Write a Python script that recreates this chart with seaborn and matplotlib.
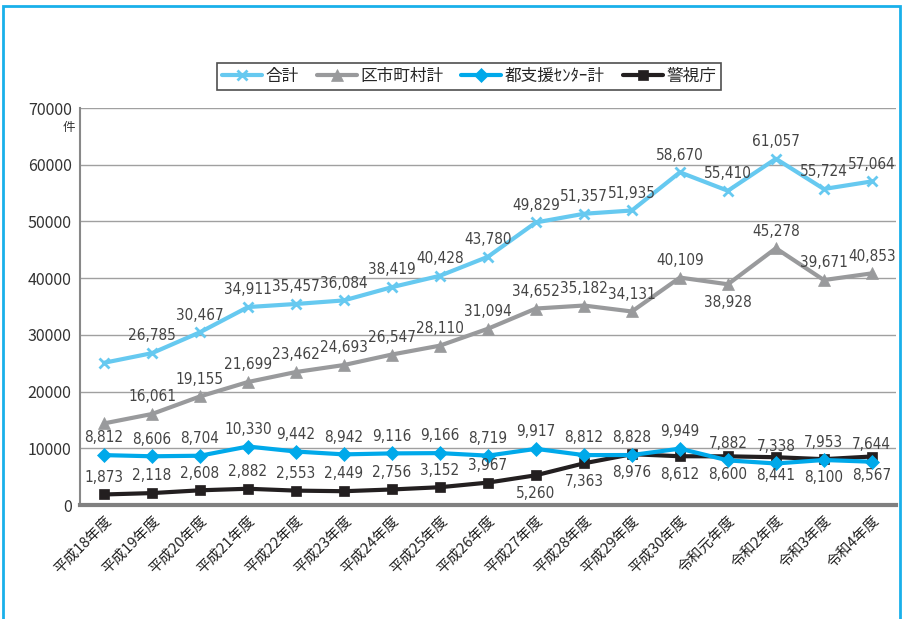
import numpy as np
import pandas as pd
import matplotlib
matplotlib.use('Agg')
import matplotlib.pyplot as plt
from matplotlib.lines import Line2D
from matplotlib.patches import Rectangle
import seaborn as sns

# --- data ---
years = ['平成18年度', '平成19年度', '平成20年度', '平成21年度', '平成22年度', '平成23年度',
         '平成24年度', '平成25年度', '平成26年度', '平成27年度', '平成28年度', '平成29年度',
         '平成30年度', '令和元年度', '令和2年度', '令和3年度', '令和4年度']
total = [25085, 26785, 30467, 34911, 35457, 36084, 38419, 40428, 43780, 49829,
         51357, 51935, 58670, 55410, 61057, 55724, 57064]
kushi = [14400, 16061, 19155, 21699, 23462, 24693, 26547, 28110, 31094, 34652,
         35182, 34131, 40109, 38928, 45278, 39671, 40853]
center = [8812, 8606, 8704, 10330, 9442, 8942, 9116, 9166, 8719, 9917,
          8812, 8828, 9949, 7882, 7338, 7953, 7644]
police = [1873, 2118, 2608, 2882, 2553, 2449, 2756, 3152, 3967, 5260,
          7363, 8976, 8612, 8600, 8441, 8100, 8567]
series_names = ['合計', '区市町村計', '都支援ｾﾝﾀｰ計', '警視庁']

sns.set_theme(style='white')
plt.rcParams['font.family'] = ['Noto Sans CJK JP', 'DejaVu Sans']

df = pd.DataFrame({'年度': years * 4,
                   '件数': total + kushi + center + police,
                   '区分': np.repeat(series_names, len(years))})

colors = {'合計': '#66c9f0', '区市町村計': '#999a9c', '都支援ｾﾝﾀｰ計': '#00a9ea', '警視庁': '#231f20'}
markers = {'合計': 'x', '区市町村計': '^', '都支援ｾﾝﾀｰ計': 'D', '警視庁': 's'}
msizes = {'合計': 7, '区市町村計': 9, '都支援ｾﾝﾀｰ計': 7, '警視庁': 7}

fig = plt.figure(figsize=(9.04, 6.19), dpi=100)
ax = fig.add_axes([0.0885, 0.184, 0.9025, 0.6415])

# draw bottom series first so the light blue total sits on top
for name in ['警視庁', '都支援ｾﾝﾀｰ計', '区市町村計', '合計']:
    sub = df[df['区分'] == name]
    sns.lineplot(data=sub, x='年度', y='件数', ax=ax, color=colors[name],
                 marker=markers[name], markersize=msizes[name],
                 markeredgewidth=2 if name == '合計' else 0.5,
                 markeredgecolor=colors[name], linewidth=3, legend=False)

# data labels (condensed face like the original)
label_font = dict(fontsize=11, color='#444444', family='DejaVu Sans',
                  fontstretch='condensed', fontweight='light')
for name, vals in zip(series_names, [total, kushi, center, police]):
    for i, v in enumerate(vals):
        if i == 0 and name in ('合計', '区市町村計'):
            continue
        below = (name == '警視庁' and i >= 9) or (name == '区市町村計' and i == 13)
        ax.annotate(f'{v:,}', (i, v), xytext=(0, -8 if below else 7),
                    textcoords='offset points', ha='center',
                    va='top' if below else 'bottom', **label_font)

ax.set_xlim(-0.5, len(years) - 0.5)
ax.set_ylim(0, 70000)
ax.set_yticks(np.arange(0, 70001, 10000))
ax.set_yticklabels([str(t) for t in range(0, 70001, 10000)], fontsize=11.5, color='#333333')
ax.set_xticks(range(len(years)))
ax.set_xticklabels(years, rotation=45, ha='right', va='top', rotation_mode='anchor',
                   fontsize=10.5, color='#222222')
ax.tick_params(axis='both', length=0, pad=6)
ax.set_xlabel('')
ax.set_ylabel('')
ax.yaxis.grid(True, color='#a0a0a0', linewidth=1)
ax.set_axisbelow(True)
for s in ['top', 'right']:
    ax.spines[s].set_visible(False)
ax.spines['left'].set_color('#888888')
ax.spines['left'].set_linewidth(1.5)
ax.spines['bottom'].set_color('#808080')
ax.spines['bottom'].set_linewidth(3)

fig.text(75 / 904, 1 - 128 / 619, '件', ha='right', va='center', fontsize=9, color='#333333')

handles = [Line2D([], [], color=colors[n], marker=markers[n], markersize=msizes[n],
                  markeredgewidth=2 if n == '合計' else 0.5, markeredgecolor=colors[n],
                  linewidth=3) for n in series_names]
leg = fig.legend(handles, series_names, loc='center', bbox_to_anchor=(469 / 904, 1 - 76 / 619),
                 ncol=4, frameon=True, fancybox=False, fontsize=12, handlelength=2.4,
                 handletextpad=0.2, columnspacing=1.1, borderpad=0.3)
leg.get_frame().set_edgecolor('#222222')
leg.get_frame().set_linewidth(1.2)

# blue outer frame
fig.patches.append(Rectangle((3 / 904, -0.1), 897 / 904, 1.1 - 6 / 619, transform=fig.transFigure,
                             fill=False, edgecolor='#19b0ea', linewidth=2))

fig.savefig('out.png', dpi=100)
